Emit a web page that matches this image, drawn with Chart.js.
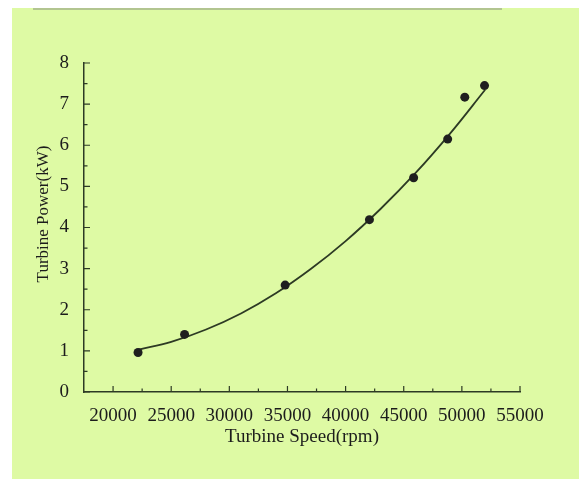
<!DOCTYPE html>
<html>
<head>
<meta charset="utf-8">
<script src="https://cdn.jsdelivr.net/npm/chart.js@4"></script>
<style>
  html, body { margin: 0; padding: 0; background: #fff; }
  canvas { display: block; }
</style>
</head>
<body>
<canvas id="chart" width="579" height="479"></canvas>
<script>
// ── data ──
const speedMeasured = [22150, 26150, 34800, 42050, 45850, 48780, 50250, 51950];
const powerMeasured = [0.96, 1.40, 2.60, 4.19, 5.21, 6.15, 7.17, 7.45];

// fitted curve, sampled along the drawn line
const speedFit = [22200, 25000, 28000, 31000, 34000, 37000, 40000, 43000, 46000, 49000, 52000];
const powerFit = [1.03, 1.22, 1.52, 1.91, 2.40, 2.99, 3.67, 4.45, 5.32, 6.29, 7.35];

const xTicks = [20000, 25000, 30000, 35000, 40000, 45000, 50000, 55000];
const xMinorTicks = [22500, 27500, 32500, 37500, 42500, 47500, 52500];
const yTicks = [0, 1, 2, 3, 4, 5, 6, 7, 8];
const yMinorTicks = [0.5, 1.5, 2.5, 3.5, 4.5, 5.5, 6.5, 7.5];

const xTitle = 'Turbine Speed(rpm)';
const yTitle = 'Turbine Power(kW)';

const GREEN = '#defaa4';
const INK = '#2d3a24';
const TEXT = '#1c1c1c';
const SERIF = '"Liberation Serif", "DejaVu Serif", serif';

// page background, white margin and the rule at the top
const backdrop = {
  id: 'backdrop',
  beforeDraw(chart) {
    const { ctx, width, height } = chart;
    ctx.save();
    ctx.fillStyle = '#fff';
    ctx.fillRect(0, 0, width, height);
    ctx.fillStyle = GREEN;
    ctx.fillRect(12, 8, width - 12, height - 8);
    ctx.strokeStyle = '#a3b38a';
    ctx.lineWidth = 1.5;
    ctx.beginPath();
    ctx.moveTo(33, 9);
    ctx.lineTo(502, 9);
    ctx.stroke();
    ctx.restore();
  }
};

// inward tick marks + rotated y title
const axisDecor = {
  id: 'axisDecor',
  afterDraw(chart) {
    const { ctx, scales: { x, y } } = chart;
    const bottom = y.getPixelForValue(0);
    const left = x.getPixelForValue(x.min);
    ctx.save();
    ctx.strokeStyle = INK;
    ctx.lineWidth = 1.2;
    ctx.beginPath();
    xTicks.forEach(v => { const p = x.getPixelForValue(v); ctx.moveTo(p, bottom); ctx.lineTo(p, bottom - 6); });
    xMinorTicks.forEach(v => { const p = x.getPixelForValue(v); ctx.moveTo(p, bottom); ctx.lineTo(p, bottom - 3.5); });
    yTicks.forEach(v => { const p = y.getPixelForValue(v); ctx.moveTo(left, p); ctx.lineTo(left + 6, p); });
    yMinorTicks.forEach(v => { const p = y.getPixelForValue(v); ctx.moveTo(left, p); ctx.lineTo(left + 3.5, p); });
    ctx.stroke();

    ctx.translate(44, 214);
    ctx.rotate(-Math.PI / 2);
    ctx.fillStyle = TEXT;
    ctx.font = '17px ' + SERIF;
    ctx.textAlign = 'center';
    ctx.textBaseline = 'middle';
    ctx.fillText(yTitle, 0, 0);
    ctx.restore();
  }
};

new Chart(document.getElementById('chart'), {
  type: 'scatter',
  data: {
    datasets: [
      {
        label: 'Fit',
        data: speedFit.map((s, i) => ({ x: s, y: powerFit[i] })),
        showLine: true,
        borderColor: INK,
        borderWidth: 1.8,
        pointRadius: 0,
        tension: 0.4,
        order: 2
      },
      {
        label: 'Measured',
        data: speedMeasured.map((s, i) => ({ x: s, y: powerMeasured[i] })),
        pointRadius: 4.5,
        pointBackgroundColor: '#1f1f1f',
        pointBorderWidth: 0,
        order: 1
      }
    ]
  },
  options: {
    responsive: false,
    animation: false,
    layout: { padding: { left: 12, top: 63, right: 59, bottom: 0 } },
    plugins: { legend: { display: false }, tooltip: { enabled: false } },
    scales: {
      x: {
        type: 'linear',
        min: 17500,
        max: 55000,
        afterBuildTicks: s => { s.ticks = xTicks.map(v => ({ value: v })); },
        afterFit: s => { s.height = 87; },
        grid: { display: false },
        border: { color: INK, width: 1.5 },
        ticks: { color: TEXT, padding: 5, maxRotation: 0, autoSkip: false, callback: v => String(v), font: { family: SERIF, size: 19 } },
        title: { display: true, text: xTitle, color: TEXT, font: { family: SERIF, size: 19 }, padding: { top: 0, bottom: 31 } }
      },
      y: {
        type: 'linear',
        min: 0,
        max: 8,
        afterBuildTicks: s => { s.ticks = yTicks.map(v => ({ value: v })); },
        afterFit: s => { s.width = 72; },
        grid: { display: false },
        border: { color: INK, width: 1.5 },
        ticks: { color: TEXT, padding: 7, callback: v => String(v), font: { family: SERIF, size: 19 } }
      }
    }
  },
  plugins: [backdrop, axisDecor]
});
</script>
</body>
</html>
